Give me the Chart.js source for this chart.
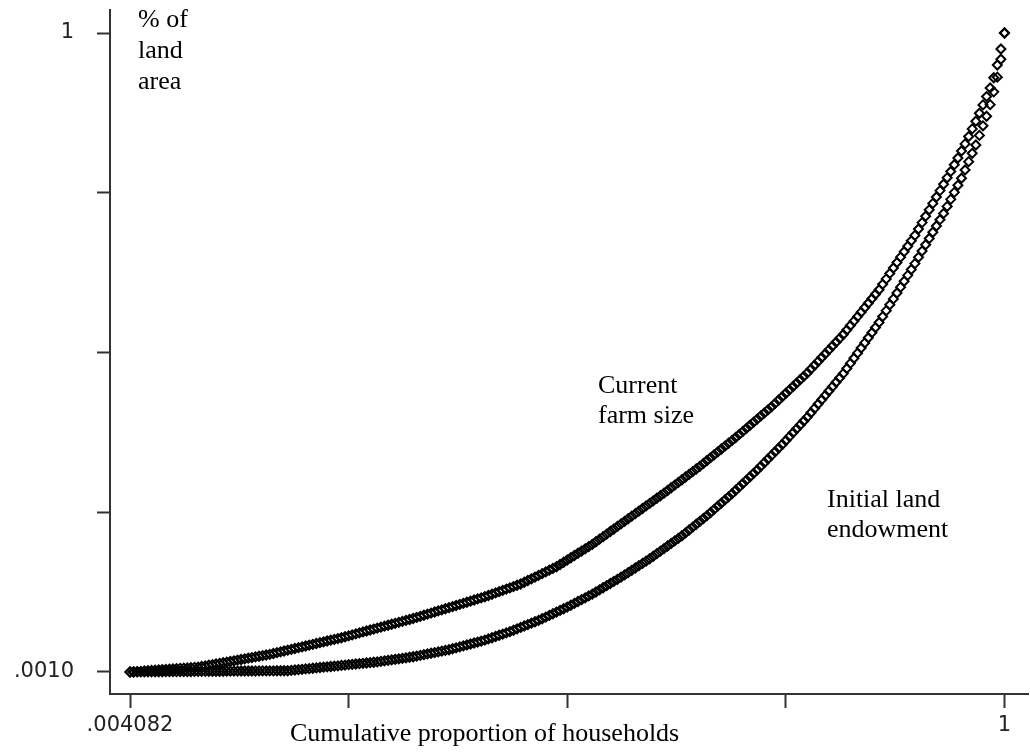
<!DOCTYPE html>
<html>
<head>
<meta charset="utf-8">
<script src="https://cdn.jsdelivr.net/npm/chart.js@4.4.1/dist/chart.umd.min.js"></script>
<style>
html,body{margin:0;padding:0;background:#fff;overflow:hidden;}
#wrap{width:1035px;height:755px;position:relative;}
</style>
</head>
<body>
<div id="wrap"><canvas id="c"></canvas></div>
<script>
// ---- data ----
const nHouseholds = 245; // x = cumulative proportion of households (1/245 = .004082)

const currentFarmSize = [
0.0010,0.0013,0.0017,0.0021,0.0025,0.0029,0.0033,0.0037,0.0041,0.0045,
0.0049,0.0054,0.0058,0.0062,0.0066,0.0070,0.0074,0.0078,0.0082,0.0086,
0.0096,0.0105,0.0115,0.0125,0.0135,0.0145,0.0155,0.0165,0.0175,0.0185,
0.0195,0.0205,0.0215,0.0226,0.0236,0.0246,0.0256,0.0266,0.0276,0.0286,
0.0299,0.0312,0.0325,0.0338,0.0351,0.0364,0.0377,0.0390,0.0403,0.0416,
0.0429,0.0442,0.0455,0.0468,0.0481,0.0494,0.0507,0.0520,0.0533,0.0546,
0.0561,0.0576,0.0591,0.0606,0.0621,0.0636,0.0651,0.0666,0.0681,0.0696,
0.0711,0.0726,0.0741,0.0756,0.0771,0.0786,0.0801,0.0816,0.0831,0.0846,
0.0863,0.0880,0.0897,0.0914,0.0931,0.0948,0.0965,0.0982,0.0999,0.1016,
0.1033,0.1050,0.1067,0.1084,0.1101,0.1118,0.1135,0.1152,0.1169,0.1186,
0.1206,0.1226,0.1246,0.1266,0.1286,0.1306,0.1326,0.1346,0.1366,0.1386,
0.1413,0.1440,0.1467,0.1494,0.1521,0.1548,0.1575,0.1602,0.1629,0.1656,
0.1691,0.1726,0.1761,0.1796,0.1831,0.1866,0.1901,0.1936,0.1971,0.2006,
0.2046,0.2086,0.2126,0.2166,0.2206,0.2246,0.2286,0.2326,0.2366,0.2406,
0.2446,0.2486,0.2526,0.2566,0.2606,0.2646,0.2686,0.2726,0.2766,0.2806,
0.2848,0.2890,0.2932,0.2974,0.3016,0.3058,0.3100,0.3142,0.3184,0.3226,
0.3271,0.3316,0.3361,0.3406,0.3451,0.3496,0.3541,0.3586,0.3631,0.3676,
0.3724,0.3772,0.3820,0.3868,0.3916,0.3964,0.4012,0.4060,0.4108,0.4156,
0.4209,0.4262,0.4315,0.4368,0.4421,0.4474,0.4527,0.4580,0.4633,0.4686,
0.4746,0.4806,0.4866,0.4926,0.4986,0.5046,0.5106,0.5166,0.5226,0.5286,
0.5356,0.5426,0.5496,0.5566,0.5636,0.5706,0.5776,0.5846,0.5916,0.5986,
0.6071,0.6156,0.6241,0.6326,0.6411,0.6496,0.6581,0.6666,0.6751,0.6836,
0.6936,0.7036,0.7136,0.7236,0.7336,0.7436,0.7536,0.7636,0.7736,0.7836,
0.7941,0.8046,0.8156,0.8266,0.8381,0.8501,0.8621,0.8746,0.8876,0.9006,
0.9141,0.9300,0.9500,0.9750,1.0000
];

const initialLandEndowment = [
0.0010,0.0010,0.0011,0.0011,0.0012,0.0012,0.0013,0.0013,0.0014,0.0014,
0.0015,0.0015,0.0016,0.0016,0.0017,0.0017,0.0018,0.0018,0.0019,0.0019,
0.0020,0.0020,0.0021,0.0021,0.0022,0.0022,0.0022,0.0023,0.0023,0.0024,
0.0024,0.0025,0.0025,0.0025,0.0026,0.0026,0.0027,0.0027,0.0027,0.0028,
0.0028,0.0029,0.0029,0.0029,0.0030,0.0036,0.0041,0.0047,0.0052,0.0058,
0.0063,0.0069,0.0074,0.0080,0.0085,0.0091,0.0096,0.0102,0.0107,0.0113,
0.0118,0.0124,0.0129,0.0135,0.0140,0.0146,0.0151,0.0157,0.0162,0.0168,
0.0176,0.0184,0.0192,0.0200,0.0208,0.0216,0.0224,0.0232,0.0240,0.0248,
0.0259,0.0270,0.0281,0.0292,0.0303,0.0314,0.0325,0.0336,0.0347,0.0358,
0.0373,0.0388,0.0403,0.0418,0.0433,0.0448,0.0463,0.0478,0.0493,0.0508,
0.0527,0.0546,0.0565,0.0584,0.0603,0.0622,0.0641,0.0663,0.0685,0.0707,
0.0729,0.0751,0.0773,0.0795,0.0817,0.0843,0.0869,0.0895,0.0921,0.0947,
0.0973,0.0999,0.1025,0.1054,0.1083,0.1112,0.1141,0.1170,0.1199,0.1228,
0.1261,0.1294,0.1327,0.1360,0.1393,0.1426,0.1459,0.1492,0.1528,0.1564,
0.1600,0.1636,0.1672,0.1708,0.1744,0.1780,0.1820,0.1860,0.1900,0.1940,
0.1980,0.2020,0.2060,0.2100,0.2140,0.2185,0.2230,0.2275,0.2320,0.2365,
0.2410,0.2455,0.2504,0.2553,0.2602,0.2651,0.2700,0.2749,0.2798,0.2851,
0.2904,0.2957,0.3010,0.3063,0.3116,0.3169,0.3226,0.3283,0.3340,0.3397,
0.3454,0.3511,0.3568,0.3629,0.3690,0.3751,0.3812,0.3873,0.3934,0.3995,
0.4063,0.4131,0.4199,0.4267,0.4335,0.4403,0.4471,0.4539,0.4607,0.4675,
0.4755,0.4835,0.4915,0.4995,0.5075,0.5155,0.5235,0.5315,0.5395,0.5475,
0.5567,0.5659,0.5751,0.5843,0.5935,0.6027,0.6119,0.6211,0.6303,0.6395,
0.6493,0.6591,0.6689,0.6787,0.6885,0.6983,0.7081,0.7179,0.7289,0.7399,
0.7509,0.7619,0.7729,0.7859,0.7989,0.8119,0.8249,0.8399,0.8549,0.8699,
0.8880,0.9080,0.9310,0.9590,1.0000
];

const xTickValues = [0.004082, 0.253061, 0.502041, 0.751020, 1];
const xTickLabels = ['.004082', '', '', '', '1'];
const yTickValues = [0.001, 0.25075, 0.5005, 0.75025, 1];
const yTickLabels = ['.0010', '', '', '', '1'];

const yAxisNote = ['% of', 'land', 'area'];
const curveNotes = [
  {lines: ['Current', 'farm size'], x: 598, y: 393},
  {lines: ['Initial land', 'endowment'], x: 827, y: 507}
];
const xAxisTitle = 'Cumulative proportion of households';

// ---- chart ----
function toPoints(arr) {
  return arr.map((v, i) => ({x: (i + 1) / nHouseholds, y: v}));
}

const textPlugin = {
  id: 'textNotes',
  afterDraw(chart) {
    const ctx = chart.ctx;
    ctx.save();
    ctx.fillStyle = '#000';
    ctx.textAlign = 'left';
    ctx.textBaseline = 'alphabetic';
    ctx.font = '26px "Liberation Serif", "Times New Roman", serif';
    yAxisNote.forEach((t, i) => ctx.fillText(t, 138, 27 + i * 31));
    curveNotes.forEach(n => n.lines.forEach((t, i) => ctx.fillText(t, n.x, n.y + i * 30)));
    ctx.fillText(xAxisTitle, 290, 741);
    ctx.restore();
  }
};

const axisColor = '#333';
const tickFont = {family: '"DejaVu Sans", sans-serif', size: 21};

function pointSet(label, arr) {
  return {
    label: label,
    data: toPoints(arr),
    pointStyle: 'rectRot',
    pointRadius: 4.5,
    pointBorderWidth: 2,
    borderColor: '#000',
    backgroundColor: 'rgba(0,0,0,0)',
    showLine: false
  };
}

new Chart(document.getElementById('c'), {
  type: 'scatter',
  data: {
    datasets: [
      pointSet('Current farm size', currentFarmSize),
      pointSet('Initial land endowment', initialLandEndowment)
    ]
  },
  options: {
    responsive: true,
    maintainAspectRatio: false,
    animation: false,
    layout: {padding: {top: 10, right: 2, left: 0, bottom: 0}},
    plugins: {legend: {display: false}, tooltip: {enabled: false}, title: {display: false}},
    scales: {
      x: {
        type: 'linear',
        min: -0.01871,
        max: 1.02734,
        afterBuildTicks: s => { s.ticks = xTickValues.map(v => ({value: v})); },
        afterFit: s => { s.height = 61; s.paddingLeft = 0; s.paddingRight = 0; s.paddingTop = 0; s.paddingBottom = 0; },
        ticks: {autoSkip: false, maxRotation: 0, minRotation: 0, padding: 5, font: tickFont, color: '#222',
                callback: (v, i) => xTickLabels[i]},
        grid: {display: true, drawOnChartArea: false, drawTicks: true, tickLength: 14, tickWidth: 2, tickColor: axisColor},
        border: {display: true, color: axisColor, width: 2}
      },
      y: {
        type: 'linear',
        min: -0.0334,
        max: 1.03596,
        afterBuildTicks: s => { s.ticks = yTickValues.map(v => ({value: v})); },
        afterFit: s => { s.width = 110; s.paddingLeft = 0; s.paddingRight = 0; s.paddingTop = 0; s.paddingBottom = 0; },
        ticks: {autoSkip: false, padding: 23, font: tickFont, color: '#222',
                callback: (v, i) => yTickLabels[i]},
        grid: {display: true, drawOnChartArea: false, drawTicks: true, tickLength: 13, tickWidth: 2, tickColor: axisColor},
        border: {display: true, color: axisColor, width: 2}
      }
    }
  },
  plugins: [textPlugin]
});
</script>
</body>
</html>
